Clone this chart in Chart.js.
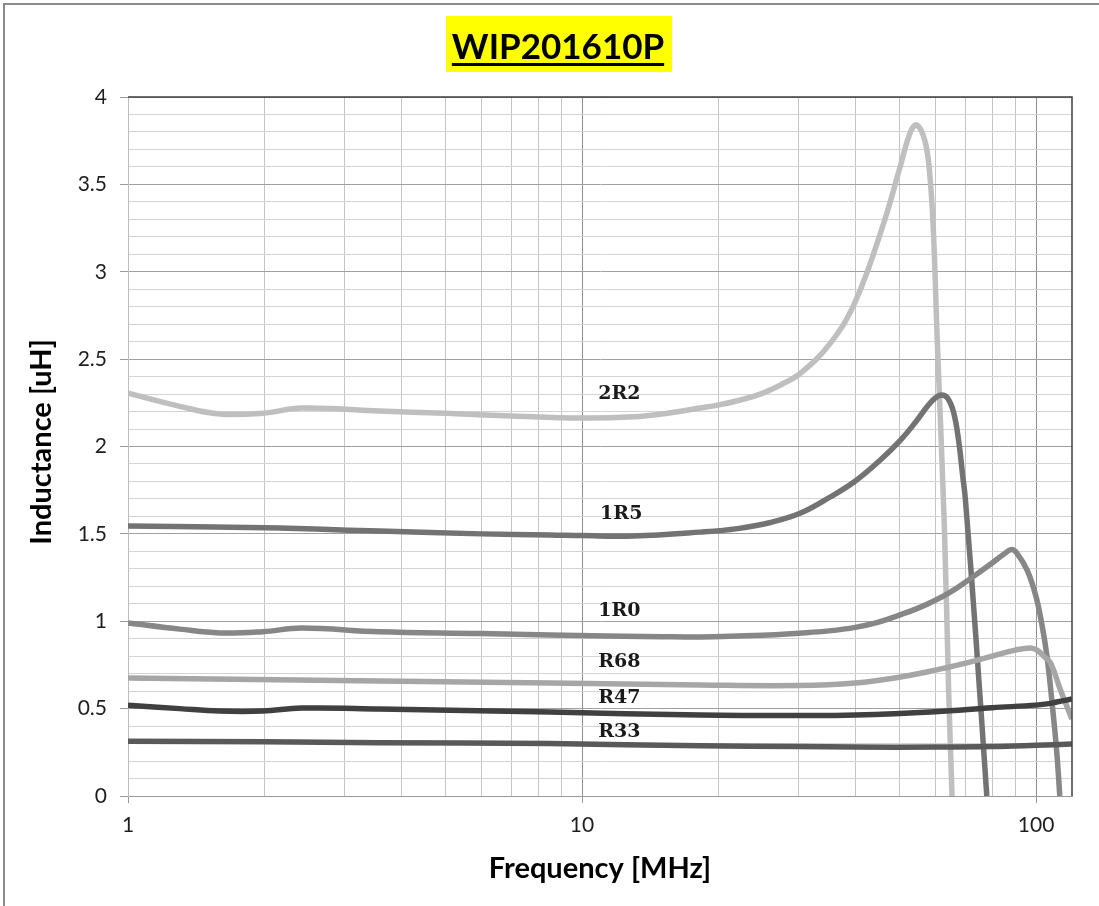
<!DOCTYPE html>
<html>
<head>
<meta charset="utf-8">
<script src="https://cdn.jsdelivr.net/npm/chart.js@4"></script>
<style>
  html, body { margin: 0; padding: 0; background: #fff; }
  #wrap { width: 1099px; height: 906px; position: relative; }
</style>
</head>
<body>
<div id="wrap"><canvas id="c" width="1099" height="906"></canvas></div>
<script>
// ---- Data (frequency in MHz, inductance in uH) ----
const chartTitle = 'WIP201610P';
const xAxisTitle = 'Frequency [MHz]';
const yAxisTitle = 'Inductance [uH]';

const f2R2 = [1, 1.3, 1.59, 1.98, 2.41, 3.58, 5, 7, 10, 13, 15, 18.2, 20, 22, 24.7, 27.5, 30.3, 35.2, 40, 46.2, 50.3, 52.9, 54.6, 56.9, 58.3, 59.4, 60.6, 62.8, 64.2, 65.3];
const L2R2 = [2.305, 2.23, 2.186, 2.19, 2.22, 2.203, 2.19, 2.175, 2.163, 2.17, 2.186, 2.22, 2.238, 2.262, 2.30, 2.355, 2.42, 2.59, 2.83, 3.28, 3.61, 3.80, 3.84, 3.75, 3.565, 3.24, 2.6, 1.55, 0.6, 0];

const f1R5 = [1, 2, 3.58, 6, 8.5, 10, 13, 18.2, 22, 26, 30.3, 35.2, 40, 45.4, 50.3, 54.3, 57.7, 60, 61.9, 63.8, 65.8, 67.5, 68.9, 69.9, 73.6, 77.9];
const L1R5 = [1.545, 1.535, 1.516, 1.50, 1.494, 1.49, 1.488, 1.51, 1.53, 1.565, 1.619, 1.711, 1.803, 1.923, 2.037, 2.14, 2.232, 2.278, 2.295, 2.278, 2.197, 2.037, 1.837, 1.694, 0.93, 0];

const f1R0 = [1, 1.3, 1.59, 1.98, 2.41, 3.58, 6, 8.5, 15, 18.2, 25, 30, 35, 40, 45, 50, 55, 60, 65, 70, 75, 80, 85, 88.3, 90.7, 95.7, 100, 103.2, 105.7, 108.3, 111, 112.8];
const L1R0 = [0.99, 0.955, 0.933, 0.94, 0.961, 0.94, 0.93, 0.921, 0.912, 0.91, 0.92, 0.932, 0.945, 0.965, 0.995, 1.035, 1.075, 1.12, 1.17, 1.225, 1.28, 1.333, 1.385, 1.41, 1.39, 1.29, 1.14, 0.97, 0.80, 0.55, 0.26, 0];

const fR68 = [1, 3.58, 8.5, 18.2, 30, 40, 50, 60, 70, 80, 90, 97.3, 100.5, 104, 107.7, 112.7, 118.5, 120];
const LR68 = [0.675, 0.658, 0.647, 0.635, 0.632, 0.647, 0.68, 0.72, 0.76, 0.80, 0.835, 0.847, 0.835, 0.80, 0.76, 0.62, 0.475, 0.44];

const fR47 = [1, 1.3, 1.59, 1.98, 2.41, 3.58, 8.5, 18.2, 30, 40, 60, 80, 100, 107.7, 111, 120];
const LR47 = [0.52, 0.50, 0.486, 0.486, 0.503, 0.498, 0.48, 0.463, 0.46, 0.463, 0.482, 0.505, 0.52, 0.53, 0.538, 0.555];

const fR33 = [1, 2, 3.58, 8.5, 18.2, 30, 40, 60, 80, 100, 120];
const LR33 = [0.313, 0.31, 0.305, 0.30, 0.287, 0.283, 0.28, 0.28, 0.283, 0.29, 0.297];

const seriesNames = ['2R2', '1R5', '1R0', 'R68', 'R47', 'R33'];
const seriesFreqs = [f2R2, f1R5, f1R0, fR68, fR47, fR33];
const seriesValues = [L2R2, L1R5, L1R0, LR68, LR47, LR33];
const seriesColors = ['#bfbfbf', '#737373', '#878787', '#a6a6a6', '#404040', '#595959'];

// in-plot series labels (anchored in data coordinates)
const labelFreq = [12.09, 12.2, 12.09, 12.09, 12.09, 12.09];
const labelL = [2.312, 1.628, 1.07, 0.778, 0.572, 0.378];

// axes
const xMin = 1, xMax = 120;
const xTickValues = [1,2,3,4,5,6,7,8,9,10,20,30,40,50,60,70,80,90,100];
const xTickLabels = [1, 10, 100];
const yMin = 0, yMax = 4, yStep = 0.1, yLabelStep = 0.5;

// ---- Build datasets (R33 first so it is drawn on top) ----
const datasets = seriesNames.map((name, i) => ({
  label: name,
  data: seriesFreqs[i].map((f, j) => ({ x: f, y: seriesValues[i][j] })),
  borderColor: seriesColors[i],
  backgroundColor: seriesColors[i],
  borderWidth: 5.5,
  pointRadius: 0,
  tension: 0.4,
  borderCapStyle: 'butt',
  borderJoinStyle: 'round',
  clip: 0,
  fill: false
})).reverse();

const isMajorY = v => Math.abs(v / yLabelStep - Math.round(v / yLabelStep)) < 1e-6;
const isMajorX = v => xTickLabels.some(t => Math.abs(t - v) < 1e-9);

const decor = {
  id: 'decor',
  beforeDraw(chart) {
    const c = chart.ctx;
    c.save();
    c.fillStyle = '#ffffff';
    c.fillRect(0, 0, chart.width, chart.height);
    c.strokeStyle = '#8c8c8c';
    c.lineWidth = 2;
    c.beginPath();
    c.moveTo(4, 920); c.lineTo(4, 4); c.lineTo(1110, 4);
    c.stroke();
    c.restore();
  },
  afterDraw(chart) {
    const c = chart.ctx;
    const a = chart.chartArea;
    const xs = chart.scales.x, ys = chart.scales.y;
    c.save();
    c.strokeStyle = '#3f3f3f';
    c.lineWidth = 1.5;
    c.beginPath();
    c.moveTo(a.left, a.top); c.lineTo(a.right, a.top); c.lineTo(a.right, a.bottom);
    c.stroke();

    // title with yellow box and underline
    c.font = 'bold 35px Lato';
    const tw = c.measureText(chartTitle).width;
    const cx = 558;
    c.fillStyle = '#ffff00';
    c.fillRect(446, 16, 226, 56);
    c.fillStyle = '#000';
    c.textAlign = 'center';
    c.textBaseline = 'alphabetic';
    c.fillText(chartTitle, cx, 59);
    c.fillRect(cx - tw / 2, 63, tw, 3);

    // axis titles
    c.font = 'bold 29px Lato';
    c.fillText(xAxisTitle, (a.left + a.right) / 2, 878);
    c.save();
    c.translate(51, 442);
    c.rotate(-Math.PI / 2);
    c.fillText(yAxisTitle, 0, 0);
    c.restore();

    // series labels
    c.font = 'bold 19px "DejaVu Serif"';
    c.fillStyle = '#1a1a1a';
    seriesNames.forEach((n, i) => {
      const px = xs.getPixelForValue(labelFreq[i]);
      const py = ys.getPixelForValue(labelL[i]);
      c.fillText(n, px, py + 7);
    });
    c.restore();
  }
};

new Chart(document.getElementById('c'), {
  type: 'line',
  data: { datasets },
  options: {
    responsive: false,
    animation: false,
    layout: { padding: { top: 97, right: 27, left: 0, bottom: 0 } },
    plugins: { legend: { display: false }, tooltip: { enabled: false }, title: { display: false } },
    elements: { point: { radius: 0 } },
    scales: {
      x: {
        type: 'logarithmic',
        min: xMin, max: xMax,
        afterBuildTicks: s => { s.ticks = xTickValues.map(v => ({ value: v })); },
        afterFit: s => { s.height = 110; },
        ticks: {
          autoSkip: false, maxRotation: 0, minRotation: 0,
          padding: 10,
          color: '#1e1e1e',
          font: { family: 'Lato', size: 21 },
          callback: v => isMajorX(v) ? String(v) : ''
        },
        grid: {
          color: ctx => (ctx.tick && isMajorX(ctx.tick.value)) ? '#8e8e8e' : '#c4c4c4',
          tickColor: ctx => (ctx.tick && isMajorX(ctx.tick.value)) ? '#9a9a9a' : 'rgba(0,0,0,0)',
          tickLength: 7,
          lineWidth: 1
        },
        border: { color: '#9a9a9a', width: 1 }
      },
      y: {
        type: 'linear',
        min: yMin, max: yMax,
        afterFit: s => { s.width = 128; },
        ticks: {
          stepSize: yStep,
          autoSkip: false,
          padding: 13,
          color: '#1e1e1e',
          font: { family: 'Lato', size: 21 },
          callback: v => isMajorY(v) ? String(Math.round(v * 10) / 10) : ''
        },
        grid: {
          color: ctx => (ctx.tick && isMajorY(ctx.tick.value)) ? '#a0a0a0' : '#d3d3d3',
          tickColor: ctx => (ctx.tick && isMajorY(ctx.tick.value)) ? '#9a9a9a' : 'rgba(0,0,0,0)',
          tickLength: 8,
          lineWidth: 1
        },
        border: { color: '#bdbdbd', width: 1 }
      }
    }
  },
  plugins: [decor]
});
</script>
</body>
</html>
